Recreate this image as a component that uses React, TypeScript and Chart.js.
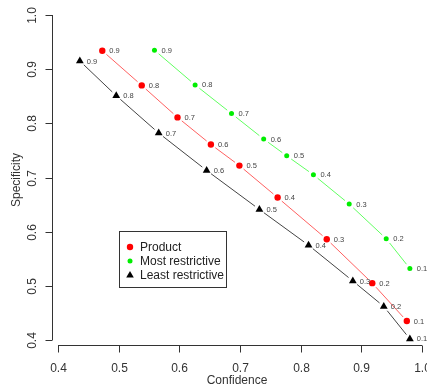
import React, { useEffect, useRef } from "react";
import { Chart, registerables } from "chart.js";
Chart.register(...registerables);

const thresholds = ["0.9", "0.8", "0.7", "0.6", "0.5", "0.4", "0.3", "0.2", "0.1"];
const productX = [0.473, 0.538, 0.597, 0.652, 0.699, 0.762, 0.843, 0.918, 0.975];
const productY = [0.934, 0.870, 0.811, 0.761, 0.722, 0.663, 0.586, 0.505, 0.435];
const mostX = [0.559, 0.626, 0.686, 0.739, 0.777, 0.821, 0.880, 0.941, 0.980];
const mostY = [0.935, 0.871, 0.818, 0.771, 0.740, 0.705, 0.651, 0.587, 0.532];
const leastX = [0.436, 0.496, 0.566, 0.645, 0.732, 0.813, 0.886, 0.937, 0.980];
const leastY = [0.915, 0.851, 0.782, 0.713, 0.641, 0.575, 0.509, 0.462, 0.402];
const seriesNames = ["Product", "Most restrictive", "Least restrictive"];
const xTicks = [0.4, 0.5, 0.6, 0.7, 0.8, 0.9, 1.0];
const yTicks = [0.4, 0.5, 0.6, 0.7, 0.8, 0.9, 1.0];
const xTitle = "Confidence";
const yTitle = "Specificity";

const FONT = "'Liberation Sans', Arial, sans-serif";

const toPts = (xs: number[], ys: number[]) => xs.map((x, i) => ({ x, y: ys[i] }));

const gapLines = {
  id: "gapLines",
  beforeDatasetsDraw(chart: any) {
    const ctx = chart.ctx;
    chart.data.datasets.forEach((ds: any, i: number) => {
      const pts = chart.getDatasetMeta(i).data;
      ctx.save();
      ctx.strokeStyle = ds.lineColor;
      ctx.lineWidth = 1;
      for (let j = 0; j < pts.length - 1; j++) {
        const a = pts[j], b = pts[j + 1];
        const dx = b.x - a.x, dy = b.y - a.y;
        const len = Math.hypot(dx, dy);
        const gap = 5.5;
        if (len <= 2 * gap) continue;
        const ux = dx / len, uy = dy / len;
        ctx.beginPath();
        ctx.moveTo(a.x + ux * gap, a.y + uy * gap);
        ctx.lineTo(b.x - ux * gap, b.y - uy * gap);
        ctx.stroke();
      }
      ctx.restore();
    });
  },
};

const pointLabels = {
  id: "pointLabels",
  afterDatasetsDraw(chart: any) {
    const ctx = chart.ctx;
    ctx.save();
    ctx.font = `7.5px ${FONT}`;
    ctx.fillStyle = "#444";
    ctx.textBaseline = "middle";
    ctx.textAlign = "left";
    chart.data.datasets.forEach((ds: any, i: number) => {
      const pts = chart.getDatasetMeta(i).data;
      pts.forEach((p: any, j: number) => {
        ctx.fillText(thresholds[j], p.x + 7, p.y + 0.5);
      });
    });
    ctx.restore();
  },
};

const rAxes = {
  id: "rAxes",
  afterDraw(chart: any) {
    const ctx = chart.ctx;
    const xs = chart.scales.x, ys = chart.scales.y;
    const area = chart.chartArea;
    ctx.save();
    ctx.strokeStyle = "#333";
    ctx.fillStyle = "#333";
    ctx.lineWidth = 1;
    // x axis
    const xb = Math.round(area.bottom) + 0.5;
    ctx.beginPath();
    ctx.moveTo(xs.getPixelForValue(xTicks[0]), xb);
    ctx.lineTo(xs.getPixelForValue(xTicks[xTicks.length - 1]), xb);
    ctx.stroke();
    ctx.font = `12px ${FONT}`;
    ctx.textAlign = "center";
    ctx.textBaseline = "middle";
    xTicks.forEach((t) => {
      const px = Math.round(xs.getPixelForValue(t)) + 0.5;
      ctx.beginPath();
      ctx.moveTo(px, xb);
      ctx.lineTo(px, xb + 7);
      ctx.stroke();
      ctx.fillText(t.toFixed(1), px, xb + 23);
    });
    // y axis
    const yl = Math.round(area.left) + 0.5;
    ctx.beginPath();
    ctx.moveTo(yl, ys.getPixelForValue(yTicks[0]));
    ctx.lineTo(yl, ys.getPixelForValue(yTicks[yTicks.length - 1]));
    ctx.stroke();
    yTicks.forEach((t) => {
      const py = Math.round(ys.getPixelForValue(t)) + 0.5;
      ctx.beginPath();
      ctx.moveTo(yl, py);
      ctx.lineTo(yl - 7, py);
      ctx.stroke();
      ctx.save();
      ctx.translate(yl - 20, py);
      ctx.rotate(-Math.PI / 2);
      ctx.fillText(t.toFixed(1), 0, 0);
      ctx.restore();
    });
    // titles
    ctx.fillText(xTitle, (area.left + area.right) / 2, 381);
    ctx.save();
    ctx.translate(17, (area.top + area.bottom) / 2);
    ctx.rotate(-Math.PI / 2);
    ctx.fillText(yTitle, 0, 0);
    ctx.restore();
    ctx.restore();
  },
};

const boxLegend = {
  id: "boxLegend",
  afterDraw(chart: any) {
    const ctx = chart.ctx;
    ctx.save();
    ctx.strokeStyle = "#333";
    ctx.lineWidth = 1;
    ctx.strokeRect(119.5, 231.5, 107, 56);
    ctx.font = `12px ${FONT}`;
    ctx.textAlign = "left";
    ctx.textBaseline = "middle";
    chart.data.datasets.forEach((ds: any, i: number) => {
      const cy = 247 + i * 14;
      const cx = 130;
      ctx.fillStyle = ds.backgroundColor;
      ctx.beginPath();
      if (ds.pointStyle === "triangle") {
        ctx.moveTo(cx, cy - 4);
        ctx.lineTo(cx + 3.8, cy + 2.5);
        ctx.lineTo(cx - 3.8, cy + 2.5);
        ctx.closePath();
      } else {
        ctx.arc(cx, cy, ds.pointRadius, 0, Math.PI * 2);
      }
      ctx.fill();
      ctx.fillStyle = "#222";
      ctx.fillText(ds.label, 140, cy + 0.5);
    });
    ctx.restore();
  },
};

export default function App() {
  const ref = useRef<HTMLCanvasElement | null>(null);
  useEffect(() => {
    document.body.style.margin = "0";
    const chart = new Chart(ref.current as HTMLCanvasElement, {
      type: "scatter",
      data: {
        datasets: [
          {
            label: seriesNames[0],
            data: toPts(productX, productY),
            backgroundColor: "#ff0000",
            borderColor: "#ff0000",
            pointStyle: "circle",
            pointRadius: 3.2,
            borderWidth: 0,
            lineColor: "#ff6060",
          } as any,
          {
            label: seriesNames[1],
            data: toPts(mostX, mostY),
            backgroundColor: "#00ee00",
            borderColor: "#00ee00",
            pointStyle: "circle",
            pointRadius: 2.5,
            borderWidth: 0,
            lineColor: "#60ff60",
          } as any,
          {
            label: seriesNames[2],
            data: toPts(leastX, leastY),
            backgroundColor: "#000000",
            borderColor: "#000000",
            pointStyle: "triangle",
            pointRadius: 4.5,
            borderWidth: 0,
            lineColor: "#444444",
          } as any,
        ],
      },
      options: {
        responsive: false,
        animation: false,
        layout: { padding: { left: 52, right: 5, top: 15, bottom: 44 } },
        scales: {
          x: { type: "linear", min: 0.3901, max: 1.0, display: false },
          y: { type: "linear", min: 0.3908, max: 1.0, display: false },
        },
        plugins: { legend: { display: false }, tooltip: { enabled: false } },
      },
      plugins: [gapLines, pointLabels, rAxes, boxLegend],
    });
    return () => chart.destroy();
  }, []);
  return (
    <div style={{ width: 427, height: 389, background: "#fff" }}>
      <canvas ref={ref} width={427} height={389} style={{ display: "block" }} />
    </div>
  );
}
